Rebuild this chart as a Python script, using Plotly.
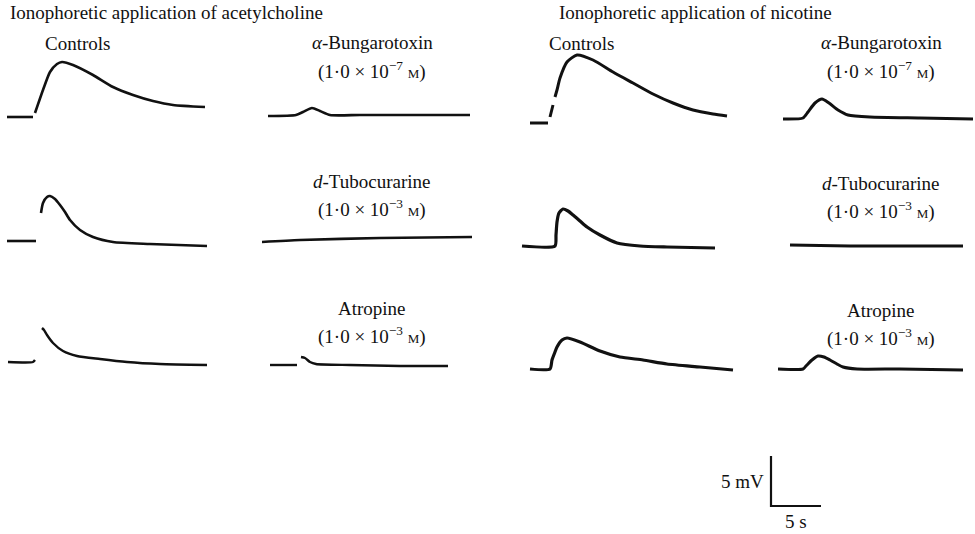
import plotly.graph_objects as go

W, H = 975, 534
PX_PER_S = 10.0    # horizontal scale: 5 s bar is ~50 px
PX_PER_MV = 10.0   # vertical scale: 5 mV bar is ~50 px

# ---- recorded potentials: time (s), depolarisation (mV); None = gap in the record
# acetylcholine, row 1
ach_ctrl1_t = [0, 2.6, None, 2.8, 3.6, 4.3, 5.0, 5.5, 6.6, 8.6, 10.6, 12.6, 14.6, 16.6, 19.8]
ach_ctrl1_v = [0, 0, None, 0.4, 2.7, 4.5, 5.3, 5.5, 5.2, 4.2, 3.0, 2.2, 1.6, 1.2, 1.0]
ach_bgt_t = [0, 2.8, 3.5, 4.4, 5.2, 6.2, 9.2, 15.2, 20.2]
ach_bgt_v = [0, 0.1, 0.4, 0.8, 0.5, 0.1, 0.1, 0.1, 0.1]
# acetylcholine, row 2
ach_ctrl2_t = [0, 2.9, None, 3.4, 3.6, 4.0, 4.3, 4.8, 5.3, 5.8, 6.3, 7.3, 8.6, 10.6, 14.3, 20.0]
ach_ctrl2_v = [0, 0, None, 2.8, 3.8, 4.4, 4.5, 4.2, 3.6, 2.9, 2.1, 1.1, 0.4, -0.1, -0.3, -0.5]
ach_dtc_t = [0, 3.8, 11.8, 21.0]
ach_dtc_v = [0, 0.2, 0.4, 0.5]
# acetylcholine, row 3
ach_ctrl3_t = [0, 2.5, 2.7, None, 3.4, 3.6, 3.9, 4.5, 5.5, 6.9, 9.2, 11.9, 15.2, 19.9]
ach_ctrl3_v = [0, 0, 0.2, None, 3.4, 3.2, 2.7, 1.9, 1.1, 0.6, 0.3, 0, -0.2, -0.3]
ach_atr_t = [0, 2.7, None, 3.1, 3.5, 4.0, 4.6, 8.0, 13.0, 17.8]
ach_atr_v = [0, 0, None, 0.8, 0.7, 0.3, 0.1, 0, -0.1, -0.1]

# nicotine, row 1
nic_ctrl1_t = [0, 1.8, None, 2.0, 2.3, None, 2.5, 2.7, 3.0, 3.7, 4.7, 6.3, 8.3, 10.3, 12.3, 14.3, 16.3, 18.3, 19.7]
nic_ctrl1_v = [0, 0, None, 0.6, 1.8, None, 2.6, 3.3, 4.5, 6.1, 6.8, 6.3, 5.1, 4.0, 2.9, 2.0, 1.3, 0.9, 0.7]
nic_bgt_t = [0, 2.0, 2.5, 3.2, 3.9, 4.6, 5.5, 6.5, 8.7, 13.7, 19.0]
nic_bgt_v = [0, 0.1, 0.7, 1.6, 2.0, 1.6, 0.9, 0.4, 0.2, 0.1, 0]
# nicotine, row 2
nic_ctrl2_t = [0, 3.3, 3.4, 3.5, 3.7, 4.1, 4.6, 5.1, 5.8, 6.5, 7.8, 9.5, 11.8, 14.5, 19.3]
nic_ctrl2_v = [0, 0, 1.1, 2.4, 3.3, 3.7, 3.5, 3.1, 2.5, 1.9, 1.1, 0.3, 0, -0.1, -0.2]
nic_dtc_t = [0, 6.0, 17.3]
nic_dtc_v = [0.1, 0, 0]
# nicotine, row 3
nic_ctrl3_t = [0, 2.0, 2.2, 2.5, 2.7, 3.2, 3.7, 5.0, 7.0, 9.0, 11.3, 13.7, 17.0, 20.3]
nic_ctrl3_v = [0, 0, 0.9, 1.7, 2.2, 2.9, 3.1, 2.7, 1.8, 1.2, 0.9, 0.5, 0.2, -0.1]
nic_atr_t = [0, 2.5, 2.8, 3.4, 4.0, 4.6, 5.2, 5.9, 6.5, 7.9, 12.2, 18.5]
nic_atr_v = [0, 0, 0.3, 0.9, 1.3, 1.2, 0.9, 0.5, 0.2, 0, 0, -0.1]

# calibration: 5 mV / 5 s
scale_t = [0, 0, 5]
scale_v = [5, 0, 0]

headings = ["Ionophoretic application of acetylcholine", "Ionophoretic application of nicotine"]
drugs = ["<i>α</i>-Bungarotoxin", "<i>d</i>-Tubocurarine", "Atropine"]
concs = ["(1·0 × 10<sup>−7</sup> <span style='font-size:13px'>M</span>)",
         "(1·0 × 10<sup>−3</sup> <span style='font-size:13px'>M</span>)",
         "(1·0 × 10<sup>−3</sup> <span style='font-size:13px'>M</span>)"]

# (t, v, pixel origin of the record's start, line width)
records = [
    (ach_ctrl1_t, ach_ctrl1_v, 7, 117, 2.6),
    (ach_bgt_t, ach_bgt_v, 268, 116, 2.6),
    (ach_ctrl2_t, ach_ctrl2_v, 7, 241, 2.6),
    (ach_dtc_t, ach_dtc_v, 262, 242, 2.6),
    (ach_ctrl3_t, ach_ctrl3_v, 8, 362, 2.4),
    (ach_atr_t, ach_atr_v, 270, 365, 2.4),
    (nic_ctrl1_t, nic_ctrl1_v, 530, 123, 3.0),
    (nic_bgt_t, nic_bgt_v, 783, 119, 3.0),
    (nic_ctrl2_t, nic_ctrl2_v, 522, 246, 3.2),
    (nic_dtc_t, nic_dtc_v, 790, 246, 3.0),
    (nic_ctrl3_t, nic_ctrl3_v, 530, 369, 3.2),
    (nic_atr_t, nic_atr_v, 778, 369, 3.0),
    (scale_t, scale_v, 771, 506, 2.2),
]

fig = go.Figure()
layout_axes = {}
for i, (t, v, x0, y0, lw) in enumerate(records, start=1):
    sfx = "" if i == 1 else str(i)
    fig.add_trace(go.Scatter(
        x=t, y=v, mode="lines", xaxis="x" + sfx, yaxis="y" + sfx,
        line=dict(color="#111111", width=lw, shape="spline", smoothing=0.6),
        connectgaps=False, showlegend=False, hoverinfo="skip",
    ))
    layout_axes["xaxis" + sfx] = dict(
        domain=[0, 1], range=[-x0 / PX_PER_S, (W - x0) / PX_PER_S],
        visible=False, fixedrange=True, anchor="y" + sfx)
    layout_axes["yaxis" + sfx] = dict(
        domain=[0, 1], range=[(y0 - H) / PX_PER_MV, y0 / PX_PER_MV],
        visible=False, fixedrange=True, anchor="x" + sfx)
# calibration bar is straight
fig.data[-1].line.shape = "linear"


def ann(text, x, y, xanchor="center", size=19):
    return dict(text=text, x=x / W, y=1 - y / H, xref="paper", yref="paper",
                xanchor=xanchor, yanchor="middle", showarrow=False,
                font=dict(size=size, color="#111111"))


annotations = [
    ann(headings[0], 8, 13, "left"),
    ann(headings[1], 557, 13, "left"),
    ann("Controls", 43, 44, "left"),
    ann("Controls", 547, 44, "left"),
]
label_rows = {372: [(43, 70), (181, 208), (308, 335)],
              881: [(43, 70), (183, 210), (310, 337)]}
for col_x, rows in label_rows.items():
    for (dy, cy), drug, conc in zip(rows, drugs, concs):
        annotations.append(ann(drug, col_x, dy))
        annotations.append(ann(conc, col_x, cy))
annotations.append(ann("5 mV", 766, 481, "right"))
annotations.append(ann("5 s", 796, 521))

fig.update_layout(
    width=W, height=H,
    margin=dict(l=0, r=0, t=0, b=0, pad=0),
    paper_bgcolor="white", plot_bgcolor="rgba(0,0,0,0)",
    font=dict(family="Liberation Serif, DejaVu Serif, serif", color="#111111"),
    annotations=annotations,
    **layout_axes,
)

# drop the browser's default 8px body margin so the figure fills the window
fig.write_html("out.html", config={"displayModeBar": False},
               post_script="document.body.style.margin = '0px';")
